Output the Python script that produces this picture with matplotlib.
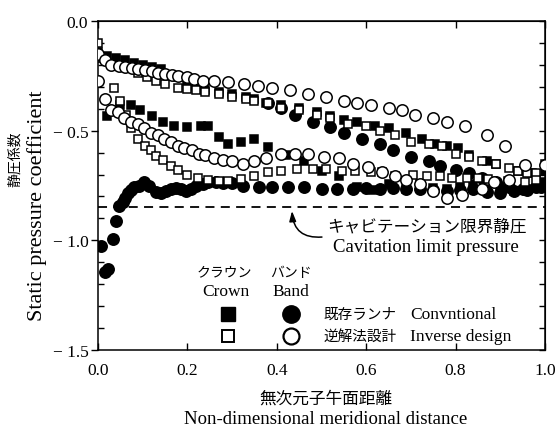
import matplotlib
matplotlib.use("Agg")
import matplotlib.pyplot as plt
from matplotlib.ticker import MultipleLocator

plt.rcParams['font.family'] = ['Liberation Serif', 'Noto Sans CJK JP']
plt.rcParams['axes.unicode_minus'] = False

# ---- data ----
# Crown, conventional runner (filled squares)
crown_conv_up_x = [0.0,0.02,0.04,0.06,0.08,0.10,0.12,0.14,0.16,0.18,0.20,0.22,0.24,0.27,0.30,0.33,0.35,0.375,0.41,0.45,0.49,0.52,0.55,0.58,0.62,0.65,0.69,0.725,0.755,0.78,0.805,0.83,0.87,0.89,0.94,0.97,1.0]
crown_conv_up_y = [-0.14,-0.16,-0.17,-0.18,-0.19,-0.20,-0.21,-0.22,-0.245,-0.255,-0.275,-0.295,-0.315,-0.325,-0.335,-0.345,-0.355,-0.375,-0.385,-0.395,-0.415,-0.435,-0.45,-0.46,-0.48,-0.49,-0.51,-0.54,-0.56,-0.57,-0.58,-0.61,-0.64,-0.65,-0.685,-0.695,-0.685]
crown_conv_lo_x = [0.02,0.05,0.073,0.095,0.12,0.145,0.17,0.20,0.23,0.245,0.27,0.29,0.32,0.35,0.38,0.42,0.46,0.50,0.54,0.58,0.615,0.65,0.69,0.72,0.75,0.78,0.81,0.84,0.87,0.90,0.93,0.96,0.99]
crown_conv_lo_y = [-0.435,-0.385,-0.385,-0.405,-0.435,-0.46,-0.48,-0.485,-0.48,-0.48,-0.53,-0.56,-0.55,-0.54,-0.575,-0.61,-0.64,-0.685,-0.705,-0.755,-0.77,-0.745,-0.765,-0.745,-0.76,-0.765,-0.755,-0.745,-0.765,-0.755,-0.775,-0.765,-0.735]

# Crown, inverse design (open squares)
crown_inv_up_x = [0.0,0.01,0.03,0.05,0.07,0.09,0.11,0.13,0.15,0.18,0.20,0.22,0.24,0.27,0.30,0.33,0.35,0.38,0.41,0.45,0.49,0.52,0.56,0.60,0.63,0.665,0.70,0.74,0.77,0.80,0.83,0.86,0.89,0.92,0.94,0.96,0.98,1.0]
crown_inv_up_y = [-0.10,-0.17,-0.195,-0.205,-0.215,-0.235,-0.255,-0.275,-0.285,-0.305,-0.31,-0.315,-0.325,-0.335,-0.345,-0.355,-0.365,-0.375,-0.395,-0.405,-0.43,-0.44,-0.47,-0.48,-0.50,-0.52,-0.55,-0.56,-0.57,-0.605,-0.62,-0.64,-0.65,-0.67,-0.685,-0.695,-0.695,-0.65]
crown_inv_lo_x = [0.036,0.05,0.062,0.074,0.09,0.105,0.118,0.13,0.145,0.163,0.18,0.20,0.223,0.245,0.27,0.29,0.32,0.35,0.38,0.41,0.445,0.48,0.51,0.545,0.575,0.61,0.635,0.665,0.705,0.737,0.765,0.792,0.826,0.85,0.873,0.917,0.955,0.98]
crown_inv_lo_y = [-0.305,-0.365,-0.43,-0.49,-0.54,-0.57,-0.59,-0.615,-0.635,-0.66,-0.68,-0.70,-0.715,-0.725,-0.73,-0.73,-0.72,-0.705,-0.69,-0.685,-0.675,-0.675,-0.675,-0.685,-0.685,-0.69,-0.69,-0.705,-0.70,-0.705,-0.705,-0.715,-0.715,-0.715,-0.72,-0.73,-0.735,-0.725]

# Band, conventional runner (filled circles)
band_conv_up_x = [0.38,0.41,0.44,0.48,0.52,0.55,0.59,0.63,0.66,0.70,0.74,0.765,0.80,0.83,0.86,0.89,0.92,0.95,0.98]
band_conv_up_y = [-0.375,-0.395,-0.43,-0.46,-0.485,-0.51,-0.54,-0.56,-0.59,-0.62,-0.64,-0.66,-0.68,-0.695,-0.715,-0.735,-0.755,-0.765,-0.755]
band_conv_lo_x = [0.007,0.016,0.022,0.033,0.04,0.047,0.055,0.06,0.067,0.074,0.08,0.092,0.103,0.114,0.13,0.141,0.152,0.163,0.174,0.185,0.196,0.208,0.219,0.234,0.246,0.263,0.28,0.30,0.325,0.36,0.39,0.425,0.46,0.50,0.535,0.57,0.60,0.63,0.66,0.69,0.72,0.75,0.78,0.81,0.84,0.87,0.90,0.93,0.96,0.99]
band_conv_lo_y = [-1.025,-1.145,-1.13,-0.995,-0.91,-0.845,-0.825,-0.805,-0.785,-0.77,-0.755,-0.75,-0.735,-0.75,-0.78,-0.785,-0.775,-0.765,-0.76,-0.765,-0.775,-0.765,-0.75,-0.745,-0.735,-0.735,-0.74,-0.74,-0.75,-0.755,-0.755,-0.755,-0.755,-0.765,-0.765,-0.765,-0.76,-0.765,-0.76,-0.765,-0.765,-0.77,-0.775,-0.77,-0.765,-0.78,-0.785,-0.775,-0.77,-0.755]

# Band, inverse design (open circles)
band_inv_up_x = [0.0,0.015,0.03,0.046,0.06,0.075,0.09,0.105,0.12,0.135,0.15,0.165,0.18,0.20,0.215,0.235,0.26,0.29,0.326,0.357,0.39,0.43,0.47,0.51,0.55,0.58,0.61,0.65,0.68,0.71,0.75,0.78,0.82,0.87,0.91]
band_inv_up_y = [-0.15,-0.18,-0.20,-0.205,-0.21,-0.215,-0.22,-0.225,-0.23,-0.235,-0.24,-0.245,-0.25,-0.255,-0.265,-0.275,-0.275,-0.28,-0.285,-0.295,-0.305,-0.315,-0.335,-0.345,-0.365,-0.375,-0.385,-0.395,-0.405,-0.43,-0.44,-0.46,-0.48,-0.52,-0.57]
band_inv_lo_x = [0.0,0.016,0.03,0.045,0.058,0.074,0.09,0.103,0.118,0.134,0.148,0.163,0.18,0.193,0.21,0.225,0.24,0.26,0.28,0.30,0.325,0.35,0.375,0.41,0.44,0.47,0.505,0.54,0.57,0.605,0.635,0.665,0.69,0.72,0.75,0.78,0.815,0.86,0.885,0.92,0.955,1.0]
band_inv_lo_y = [-0.275,-0.355,-0.405,-0.415,-0.44,-0.46,-0.47,-0.49,-0.51,-0.52,-0.54,-0.55,-0.57,-0.58,-0.59,-0.605,-0.61,-0.625,-0.635,-0.64,-0.65,-0.64,-0.625,-0.605,-0.605,-0.605,-0.62,-0.625,-0.65,-0.665,-0.69,-0.705,-0.725,-0.745,-0.775,-0.805,-0.795,-0.765,-0.735,-0.725,-0.655,-0.655]

cavitation_limit = -0.85

xticks = [0.0, 0.2, 0.4, 0.6, 0.8, 1.0]
xticklabels = ["0.0", "0.2", "0.4", "0.6", "0.8", "1.0"]
yticks = [0.0, -0.5, -1.0, -1.5]
yticklabels = ["0.0", "\u2212 0.5", "\u2212 1.0", "\u2212 1.5"]

# ---- figure ----
fig = plt.figure(figsize=(5.6, 4.27), dpi=100)
W, H = 560, 427
L, R, T, B = 98, 545, 22, 351
ax = fig.add_axes([L / W, 1 - B / H, (R - L) / W, (B - T) / H])

sq = dict(marker='s', ms=6.4, mew=1.1, ls='none', mec='black')
ci = dict(marker='o', ms=8.2, mew=1.1, ls='none', mec='black')

ax.plot(band_conv_up_x, band_conv_up_y, mfc='black', zorder=3, **ci)
ax.plot(band_conv_lo_x, band_conv_lo_y, mfc='black', zorder=3, **ci)
ax.plot(crown_conv_up_x, crown_conv_up_y, mfc='black', zorder=3, **sq)
ax.plot(crown_conv_lo_x, crown_conv_lo_y, mfc='black', zorder=3, **sq)
ax.plot(crown_inv_up_x, crown_inv_up_y, mfc='white', zorder=4, **sq)
ax.plot(crown_inv_lo_x, crown_inv_lo_y, mfc='white', zorder=4, **sq)
ax.plot(band_inv_up_x, band_inv_up_y, mfc='white', zorder=5, **ci)
ax.plot(band_inv_lo_x, band_inv_lo_y, mfc='white', zorder=5, **ci)

ax.axhline(cavitation_limit, color='black', lw=1.3, ls=(0, (5, 3.5)), zorder=2)

ax.set_xlim(0, 1)
ax.set_ylim(-1.5, 0)
ax.set_xticks(xticks)
ax.set_xticklabels(xticklabels, fontsize=12.5)
ax.set_yticks(yticks)
ax.set_yticklabels(yticklabels, fontsize=12.5)
ax.yaxis.set_minor_locator(MultipleLocator(0.1))
ax.tick_params(axis='x', which='major', direction='in', length=5, width=1, pad=9)
ax.tick_params(axis='y', which='major', direction='out', length=5, width=1, pad=2)
ax.tick_params(axis='y', which='minor', direction='in', length=4, width=1)
for s in ax.spines.values():
    s.set_linewidth(1.1)

sec_y = ax.secondary_yaxis('right')
sec_y.set_yticks([-1.5 + 0.1 * i for i in range(16)])
sec_y.tick_params(direction='in', length=4, width=1, labelright=False)
sec_x = ax.secondary_xaxis('top')
sec_x.set_xticks(xticks)
sec_x.tick_params(direction='in', length=5, width=1, labeltop=False)

# axis labels
fig.text(15 / W, 1 - 159 / H, "静圧係数", rotation=90, ha='center', va='center', fontsize=10)
fig.text(37 / W, 1 - 206 / H, "Static pressure coefficient", rotation=90, ha='center', va='center', fontsize=16)
fig.text(326 / W, 1 - 400 / H, "無次元子午面距離", ha='center', va='center', fontsize=12)
fig.text(326 / W, 1 - 420 / H, "Non-dimensional meridional distance", ha='center', va='center', fontsize=13.5)

# annotation for cavitation limit
ax.annotate("", xy=(0.434, -0.866), xytext=(0.501, -0.985),
            arrowprops=dict(arrowstyle='-|>,head_length=0.6,head_width=0.2', color='black', lw=1.1,
                            connectionstyle='arc3,rad=-0.5', shrinkA=0, shrinkB=0))
ax.text(0.736, -0.935, "キャビテーション限界静圧", ha='center', va='center', fontsize=12)
ax.text(0.733, -1.03, "Cavitation limit pressure", ha='center', va='center', fontsize=13.5)

# legend drawn inside axes
ax.text(0.283, -1.145, "クラウン", ha='center', va='center', fontsize=10)
ax.text(0.286, -1.231, "Crown", ha='center', va='center', fontsize=12.5)
ax.text(0.431, -1.145, "バンド", ha='center', va='center', fontsize=10)
ax.text(0.431, -1.231, "Band", ha='center', va='center', fontsize=12.5)
ax.plot([0.29], [-1.336], marker='s', ms=9.5, mfc='black', mec='black', ls='none', clip_on=False)
ax.plot([0.431], [-1.336], marker='o', ms=12.5, mfc='black', mec='black', ls='none', clip_on=False)
ax.plot([0.29], [-1.436], marker='s', ms=9.0, mfc='white', mec='black', mew=1.4, ls='none', clip_on=False)
ax.plot([0.431], [-1.436], marker='o', ms=11.5, mfc='white', mec='black', mew=1.6, ls='none', clip_on=False)
ax.text(0.504, -1.336, "既存ランナ", ha='left', va='center', fontsize=10.5)
ax.text(0.699, -1.336, "Convntional", ha='left', va='center', fontsize=12.5)
ax.text(0.504, -1.436, "逆解法設計", ha='left', va='center', fontsize=10.5)
ax.text(0.699, -1.436, "Inverse design", ha='left', va='center', fontsize=12.5)

fig.savefig("out.png", dpi=100)
